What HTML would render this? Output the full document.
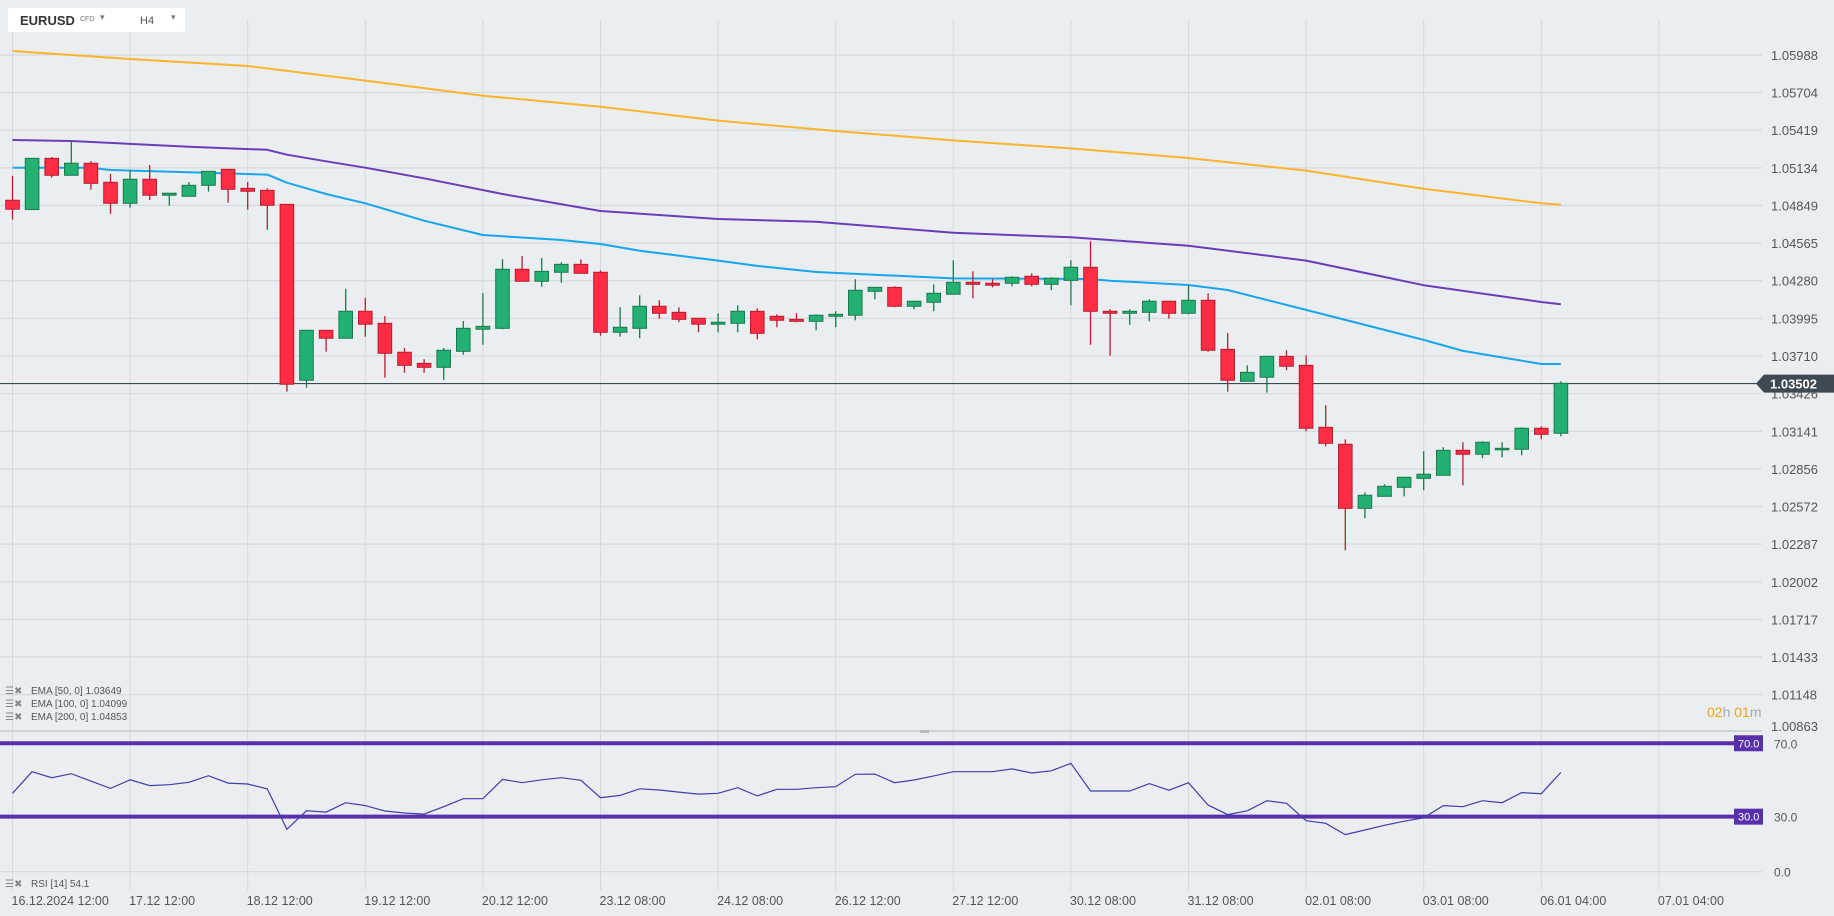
<!DOCTYPE html>
<html><head><meta charset="utf-8">
<style>
html,body{margin:0;padding:0;background:#ebeef1;}
body{width:1834px;height:916px;overflow:hidden;position:relative;font-family:"Liberation Sans",sans-serif;}
svg{position:absolute;left:0;top:0;}
.topbox{position:absolute;left:8px;top:8px;width:177px;height:24px;background:#fff;border-radius:2px;}
</style></head>
<body>
<svg id="chart" width="1834" height="916"></svg>
<div class="topbox">
  <span style="position:absolute;left:12px;top:5px;font-size:13px;font-weight:bold;color:#333;">EURUSD</span>
  <span style="position:absolute;left:72px;top:8px;font-size:7px;color:#777;">CFD</span>
  <span style="position:absolute;left:92px;top:4px;font-size:9px;color:#777;">▾</span>
  <span style="position:absolute;left:132px;top:7px;font-size:11px;color:#555;">H4</span>
  <span style="position:absolute;left:163px;top:4px;font-size:9px;color:#777;">▾</span>
</div>
<script>
const opens=[1.04889,1.04819,1.05206,1.05078,1.05169,1.05025,1.04866,1.05048,1.04927,1.04919,1.05002,1.05123,1.04979,1.04964,1.04858,1.03527,1.03905,1.03845,1.04049,1.03958,1.03739,1.03655,1.03625,1.03746,1.03913,1.03920,1.04367,1.04276,1.04344,1.04404,1.04344,1.03890,1.03920,1.04087,1.04041,1.03996,1.03951,1.03958,1.04049,1.04011,1.03988,1.03973,1.04011,1.04019,1.04200,1.04230,1.04087,1.04117,1.04178,1.04268,1.04261,1.04261,1.04314,1.04253,1.04283,1.04382,1.04049,1.04034,1.04041,1.04125,1.04034,1.04132,1.03761,1.03519,1.03550,1.03708,1.03640,1.03171,1.03043,1.02558,1.02649,1.02717,1.02785,1.02808,1.02997,1.02967,1.03005,1.03005,1.03164,1.03126];
const highs=[1.05073,1.05209,1.05216,1.05335,1.05186,1.05088,1.05118,1.05156,1.04942,1.05027,1.05108,1.05123,1.05027,1.04979,1.04858,1.03905,1.03905,1.04218,1.04150,1.04013,1.03771,1.03686,1.03771,1.03975,1.04187,1.04442,1.04467,1.04452,1.04420,1.04442,1.04359,1.04079,1.04170,1.04132,1.04079,1.03996,1.04034,1.04094,1.04072,1.04026,1.04034,1.04026,1.04049,1.04291,1.04230,1.04238,1.04125,1.04253,1.04435,1.04351,1.04291,1.04314,1.04336,1.04306,1.04435,1.04579,1.04064,1.04064,1.04140,1.04125,1.04246,1.04185,1.03885,1.03640,1.03708,1.03754,1.03716,1.03338,1.03080,1.02679,1.02740,1.02793,1.02990,1.03020,1.03058,1.03065,1.03058,1.03171,1.03179,1.03519];
const lows=[1.04742,1.04819,1.05060,1.05078,1.04969,1.04787,1.04833,1.04891,1.04848,1.04919,1.04954,1.04871,1.04818,1.04666,1.03441,1.03471,1.03743,1.03845,1.03857,1.03547,1.03584,1.03584,1.03529,1.03720,1.03796,1.03913,1.04276,1.04235,1.04265,1.04336,1.03864,1.03857,1.03845,1.03993,1.03966,1.03890,1.03890,1.03890,1.03837,1.03928,1.03966,1.03905,1.03928,1.03981,1.04140,1.04079,1.04064,1.04049,1.04178,1.04147,1.04230,1.04238,1.04238,1.04208,1.04094,1.03796,1.03713,1.03947,1.03973,1.03993,1.04026,1.03743,1.03441,1.03519,1.03433,1.03603,1.03141,1.03027,1.02241,1.02483,1.02649,1.02649,1.02695,1.02808,1.02732,1.02937,1.02944,1.02959,1.03080,1.03103];
const closes=[1.04821,1.05206,1.05078,1.05169,1.05017,1.04866,1.05048,1.04927,1.04942,1.05002,1.05108,1.04972,1.04957,1.04851,1.03497,1.03905,1.03845,1.04049,1.03951,1.03731,1.03640,1.03625,1.03754,1.03920,1.03935,1.04367,1.04276,1.04351,1.04404,1.04336,1.03890,1.03928,1.04087,1.04034,1.03988,1.03951,1.03966,1.04049,1.03882,1.03981,1.03973,1.04019,1.04026,1.04208,1.04230,1.04087,1.04125,1.04185,1.04268,1.04253,1.04246,1.04306,1.04253,1.04299,1.04382,1.04049,1.04034,1.04049,1.04125,1.04034,1.04132,1.03754,1.03527,1.03587,1.03708,1.03633,1.03164,1.03050,1.02558,1.02657,1.02725,1.02793,1.02816,1.02997,1.02967,1.03058,1.03012,1.03164,1.03118,1.03504];
const ema50Idx=[0,4,5,9,13,14,16,18,21,24,28,30,32,36,38,41,48,55,56,60,62,66,72,74,78,79];
const ema50Val=[1.05135,1.05135,1.05118,1.05101,1.05083,1.05022,1.04936,1.04866,1.04734,1.04626,1.04588,1.04558,1.04507,1.04432,1.04392,1.04346,1.04298,1.04293,1.04280,1.04248,1.04210,1.04059,1.03832,1.03749,1.03650,1.03650];
const ema100Idx=[0,3,9,13,14,16,18,21,25,30,36,41,48,54,60,66,72,78,79];
const ema100Val=[1.05345,1.05337,1.05294,1.05271,1.05234,1.05184,1.05135,1.05055,1.04936,1.04808,1.04747,1.04727,1.04643,1.04609,1.04545,1.04432,1.04246,1.04119,1.04102];
const ema200Idx=[0,6,12,18,24,30,36,42,48,54,60,66,72,78,79];
const ema200Val=[1.06018,1.05958,1.05905,1.05794,1.05680,1.05597,1.05492,1.05413,1.05342,1.05281,1.05209,1.05113,1.04976,1.04866,1.04855];
const rsiVals=[42.7,54.5,51.2,53.4,49.4,45.4,50.1,46.9,47.4,48.7,52.3,48.3,47.8,45.1,23.1,33.2,32.5,37.6,36.0,33.1,32.0,31.4,35.4,39.8,39.8,50.3,48.5,50.1,51.2,49.8,40.3,41.6,45.2,44.5,43.4,42.3,42.7,45.8,41.3,44.9,44.9,45.8,46.3,53.1,53.2,48.5,50.0,52.2,54.5,54.5,54.5,56.0,53.8,55.0,59.1,44.0,44.0,44.0,48.0,44.4,48.5,36.3,31.1,33.2,38.7,37.3,27.8,26.4,20.2,22.7,25.3,27.5,29.4,36.0,35.4,38.7,37.6,43.1,42.5,54.1];
const priceTicks=["1.05988","1.05704","1.05419","1.05134","1.04849","1.04565","1.04280","1.03995","1.03710","1.03426","1.03141","1.02856","1.02572","1.02287","1.02002","1.01717","1.01433","1.01148"];
const timeLabels=["16.12.2024  12:00","17.12  12:00","18.12  12:00","19.12  12:00","20.12  12:00","23.12  08:00","24.12  08:00","26.12  12:00","27.12  12:00","30.12  08:00","31.12  08:00","02.01  08:00","03.01  08:00","06.01  04:00","07.01  04:00"];
const rsiLevels=[70,30];
const lastPrice=1.03502;

const NS="http://www.w3.org/2000/svg";
const svg=document.getElementById('chart');
function mk(tag,attrs,parent){const e=document.createElementNS(NS,tag);for(const k in attrs)e.setAttribute(k,attrs[k]);(parent||svg).appendChild(e);return e;}
const xOf=i=>12.5+19.6*i;
const yP=p=>55+(1.05988-p)/0.0028487*37.65;
const yR=v=>871.7-v*1.835;

for(let k=0;k<timeLabels.length;k++){
  const x=xOf(k*6);
  const g=mk('line',{x1:x,y1:20,x2:x,y2:890,stroke:'#d5d9dd','stroke-width':1});
  
  
  const t=mk('text',{x:x-1,y:905,'font-size':12.5,fill:'#555','xml:space':'preserve'});
  t.textContent=timeLabels[k];
  
  
}
priceTicks.forEach(s=>{
  const y=yP(parseFloat(s));
  const l=mk('line',{x1:0,y1:y,x2:1762,y2:y,stroke:'#d5d9dd','stroke-width':1.2});
  
  
  const t=mk('text',{x:1771,y:y+5,'font-size':13,fill:'#555'});
  t.textContent=s;
  
  
});
{const t=mk('text',{x:1771,y:731,'font-size':13,fill:'#555'});t.textContent="1.00863";

}
{const l=mk('line',{x1:0,y1:731,x2:1762,y2:731,stroke:'#cfd3d7','stroke-width':2});


const h=mk('rect',{x:920,y:730,width:9,height:3,fill:'#b8bcc0'});

}
{const l=mk('line',{x1:0,y1:yR(0),x2:1762,y2:yR(0),stroke:'#d5d9dd','stroke-width':1.2});


const t=mk('text',{x:1774,y:yR(0)+5,'font-size':12,fill:'#555'});t.textContent="0.0";

}

function emaPath(idx,vals,color,name){
  let d='';idx.forEach((i,j)=>{d+=(j?'L':'M')+xOf(i).toFixed(1)+' '+yP(vals[j]).toFixed(1);});
  const p=mk('path',{d:d,fill:'none',stroke:color,'stroke-width':2,'stroke-linejoin':'round'});
  
  
}
emaPath(ema200Idx,ema200Val,'#f9b42d','ema-200-line');
emaPath(ema100Idx,ema100Val,'#6a3db8','ema-100-line');
emaPath(ema50Idx,ema50Val,'#16a6ee','ema-50-line');

{const y=yP(lastPrice);
const l=mk('line',{x1:0,y1:y,x2:1760,y2:y,stroke:'#3a4a55','stroke-width':1.2});

}

for(let i=0;i<opens.length;i++){
  const o=opens[i],h=highs[i],l=lows[i],c=closes[i];
  const up=c>=o;
  const x=xOf(i);
  const stroke=up?'#187a4c':'#b81c2e', fill=up?'#23b072':'#ff2d44';
  const w=mk('line',{x1:x,y1:yP(h),x2:x,y2:yP(l),stroke:stroke,'stroke-width':1.3});
  
  
  const top=yP(Math.max(o,c)),bot=yP(Math.min(o,c));
  const b=mk('rect',{x:x-6.8,y:top,width:13.6,height:Math.max(1.5,bot-top),fill:fill,stroke:stroke,'stroke-width':1});
  
  
}

{const y=yP(lastPrice);
const g=mk('path',{d:`M1756 ${y} L1764 ${y-9} L1834 ${y-9} L1834 ${y+9} L1764 ${y+9} Z`,fill:'#3d4a54'});


const t=mk('text',{x:1770,y:y+5,'font-size':13,'font-weight':'bold',fill:'#fff'});t.textContent="1.03502";

}

rsiLevels.forEach(v=>{
  const y=yR(v);
  const l=mk('line',{x1:0,y1:y,x2:1734,y2:y,stroke:'#5a2fae','stroke-width':4});
  
  
  const r=mk('rect',{x:1734,y:y-8,width:29,height:16,fill:'#5a2fae'});
  
  
  const t=mk('text',{x:1738,y:y+4,'font-size':11,fill:'#fff'});t.textContent=v.toFixed(1);
  
  
  const t2=mk('text',{x:1774,y:y+5,'font-size':12,fill:'#555'});t2.textContent=v.toFixed(1);
  
  
});
{let d='';rsiVals.forEach((v,i)=>{d+=(i?'L':'M')+xOf(i).toFixed(1)+' '+yR(v).toFixed(1);});
const p=mk('path',{d:d,fill:'none',stroke:'#3e3ea8','stroke-width':1.2});

}

const legends=[["EMA [50,  0] 1.03649",694],["EMA [100,  0] 1.04099",707],["EMA [200,  0] 1.04853",720],["RSI  [14]  54.1",887]];
legends.forEach(([txt,y])=>{
  const ic=mk('text',{x:5,y:y,'font-size':10,fill:'#888'});ic.textContent="☰✖";
  
  
  const t=mk('text',{x:31,y:y,'font-size':10,fill:'#555','xml:space':'preserve'});t.textContent=txt;
  
  
});
{const t=mk('text',{x:1707,y:717,'font-size':14});


t.innerHTML='<tspan fill="#f5a11c">02</tspan><tspan fill="#aaa">h </tspan><tspan fill="#f5a11c">01</tspan><tspan fill="#aaa">m</tspan>';}
</script>
</body></html>
